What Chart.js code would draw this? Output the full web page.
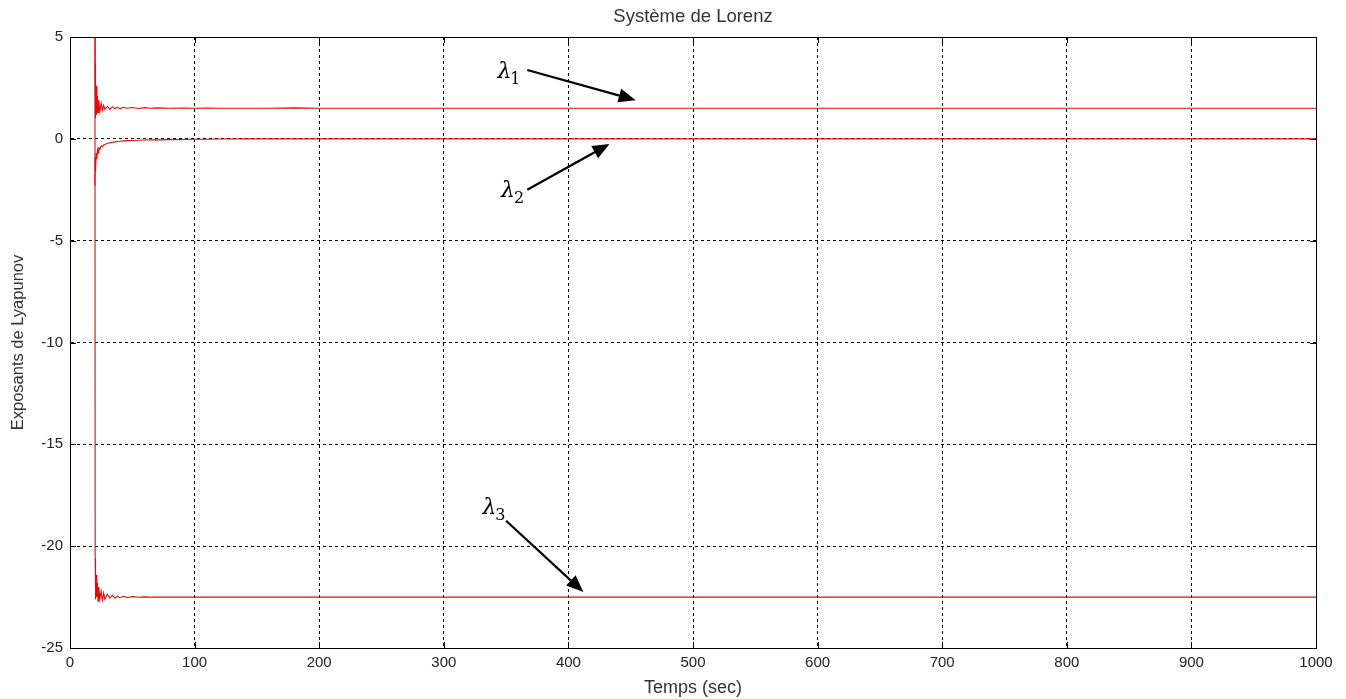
<!DOCTYPE html>
<html lang="fr">
<head>
<meta charset="UTF-8">
<title>Système de Lorenz</title>
<script src="https://cdn.jsdelivr.net/npm/chart.js"></script>
<style>
  html, body { margin: 0; padding: 0; background: #fff; }
  #wrap { width: 1346px; height: 699px; }
</style>
</head>
<body>
<div id="wrap"><canvas id="lyap" width="1346" height="699"></canvas></div>
<script>
// temps d'integration (s) et exposants estimes
var temps = [20, 20.2, 20.5, 21, 21.5, 22, 22.5, 23, 24, 25,
             26, 27, 28, 30, 32, 34, 36, 38, 40, 43,
             46, 50, 55, 60, 65, 70, 80, 90, 100, 110,
             120, 140, 160, 180, 200, 250, 300, 400, 500, 600,
             700, 800, 900, 1000];

var lambda1 = [8, 3.7, 1.0, 2.6, 1.2, 2.1, 1.3, 1.9, 1.35, 1.75,
               1.4, 1.65, 1.45, 1.6, 1.45, 1.58, 1.47, 1.56, 1.48, 1.55,
               1.5, 1.54, 1.49, 1.53, 1.5, 1.52, 1.5, 1.51, 1.5, 1.51,
               1.5, 1.5, 1.5, 1.52, 1.5, 1.5, 1.5, 1.5, 1.5, 1.5,
               1.5, 1.5, 1.5, 1.5];

var lambda2 = [-2.3, -0.9, -1.6, -0.7, -1.0, -0.55, -0.7, -0.45, -0.5, -0.35,
               -0.38, -0.3, -0.28, -0.22, -0.2, -0.17, -0.15, -0.13, -0.12, -0.1,
               -0.09, -0.08, -0.07, -0.06, -0.05, -0.05, -0.04, -0.03, -0.02, -0.02,
               -0.01, 0, 0, 0, 0, 0, 0, 0, 0, 0,
               0, 0, 0, 0];

var lambda3 = [8, -20.6, -22.6, -21.4, -22.5, -21.8, -22.7, -22.0, -22.6, -22.2,
               -22.65, -22.3, -22.6, -22.35, -22.55, -22.4, -22.55, -22.45, -22.53, -22.46,
               -22.52, -22.48, -22.51, -22.49, -22.5, -22.5, -22.5, -22.5, -22.5, -22.5,
               -22.5, -22.5, -22.5, -22.5, -22.5, -22.5, -22.5, -22.5, -22.5, -22.5,
               -22.5, -22.5, -22.5, -22.5];

var xTicks = [0, 100, 200, 300, 400, 500, 600, 700, 800, 900, 1000];
var yTicks = [5, 0, -5, -10, -15, -20, -25];

// etiquettes lambda et fleches (coordonnees en unites des axes)
var fleches = [
  { indice: '1', tx: 343, ty: 3.0,   x0: 367, y0: 3.38,  x1: 454, y1: 1.9 },
  { indice: '2', tx: 346, ty: -2.85, x0: 367, y0: -2.5,  x1: 433, y1: -0.25 },
  { indice: '3', tx: 331, ty: -18.4, x0: 350, y0: -18.75, x1: 412, y1: -22.25 }
];

function serie(vals) {
  return vals.map(function (v, i) { return { x: temps[i], y: v }; });
}

var rouge = 'rgb(228, 10, 10)';
var police = '"Liberation Sans", Arial, sans-serif';

// titre centre sur les axes, cadre complet, graduations vers l'interieur, fleches et lambdas
var habillage = {
  id: 'habillage',
  afterDatasetsDraw: function (chart) {
    var ctx = chart.ctx, a = chart.chartArea;
    var sx = chart.scales.x, sy = chart.scales.y;
    ctx.save();
    ctx.fillStyle = '#333';
    ctx.font = '18.5px ' + police;
    ctx.textAlign = 'center';
    ctx.textBaseline = 'middle';
    ctx.fillText('Système de Lorenz', (a.left + a.right) / 2, 17);

    ctx.strokeStyle = '#000';
    ctx.lineWidth = 1;
    ctx.setLineDash([]);
    ctx.strokeRect(Math.round(a.left) + 0.5, Math.round(a.top) + 0.5,
                   Math.round(a.right - a.left), Math.round(a.bottom - a.top));
    ctx.beginPath();
    xTicks.forEach(function (t) {
      var px = Math.round(sx.getPixelForValue(t)) + 0.5;
      ctx.moveTo(px, a.bottom); ctx.lineTo(px, a.bottom - 6);
      ctx.moveTo(px, a.top); ctx.lineTo(px, a.top + 6);
    });
    yTicks.forEach(function (t) {
      var py = Math.round(sy.getPixelForValue(t)) + 0.5;
      ctx.moveTo(a.left, py); ctx.lineTo(a.left + 6, py);
      ctx.moveTo(a.right, py); ctx.lineTo(a.right - 6, py);
    });
    ctx.stroke();

    fleches.forEach(function (f) {
      var x0 = sx.getPixelForValue(f.x0), y0 = sy.getPixelForValue(f.y0);
      var x1 = sx.getPixelForValue(f.x1), y1 = sy.getPixelForValue(f.y1);
      var ang = Math.atan2(y1 - y0, x1 - x0);
      var L = 17, W = 7;
      ctx.strokeStyle = '#000';
      ctx.fillStyle = '#000';
      ctx.lineWidth = 2.2;
      ctx.beginPath();
      ctx.moveTo(x0, y0);
      ctx.lineTo(x1 - Math.cos(ang) * (L - 2), y1 - Math.sin(ang) * (L - 2));
      ctx.stroke();
      ctx.beginPath();
      ctx.moveTo(x1, y1);
      ctx.lineTo(x1 - L * Math.cos(ang) + W * Math.sin(ang), y1 - L * Math.sin(ang) - W * Math.cos(ang));
      ctx.lineTo(x1 - L * Math.cos(ang) - W * Math.sin(ang), y1 - L * Math.sin(ang) + W * Math.cos(ang));
      ctx.closePath();
      ctx.fill();

      var tx = sx.getPixelForValue(f.tx), ty = sy.getPixelForValue(f.ty);
      ctx.textBaseline = 'alphabetic';
      ctx.textAlign = 'left';
      ctx.font = 'italic 22px "DejaVu Serif"';
      ctx.fillText('\u03bb', tx, ty);
      var w = ctx.measureText('\u03bb').width;
      ctx.font = '16px "DejaVu Serif"';
      ctx.fillText(f.indice, tx + w - 1, ty + 6);
    });
    ctx.restore();
  }
};

var ligne = { borderColor: rouge, borderWidth: 1.1, pointRadius: 0, tension: 0, fill: false };

var ctx = document.getElementById('lyap').getContext('2d');
var chart = new Chart(ctx, {
  type: 'line',
  data: {
    datasets: [
      Object.assign({ label: 'lambda1', data: serie(lambda1) }, ligne),
      Object.assign({ label: 'lambda2', data: serie(lambda2) }, ligne),
      Object.assign({ label: 'lambda3', data: serie(lambda3) }, ligne)
    ]
  },
  options: {
    responsive: false,
    animation: false,
    layout: { padding: { left: 0, right: 30, top: 37, bottom: 0 } },
    plugins: {
      legend: { display: false },
      tooltip: { enabled: false },
      title: { display: false }
    },
    scales: {
      x: {
        type: 'linear',
        min: 0, max: 1000,
        afterFit: function (s) { s.height = 51; },
        afterBuildTicks: function (s) { s.ticks = xTicks.map(function (v) { return { value: v }; }); },
        ticks: {
          color: '#222', padding: 6, maxRotation: 0,
          font: { family: police, size: 15 },
          callback: function (v) { return String(v); }
        },
        grid: { color: '#000', lineWidth: 1, drawTicks: false },
        border: { display: true, color: '#000', dash: [3, 3] },
        title: {
          display: true, text: 'Temps (sec)', color: '#333',
          font: { family: police, size: 18 },
          padding: { top: 1, bottom: 0 }
        }
      },
      y: {
        type: 'linear',
        min: -25, max: 5,
        afterFit: function (s) { s.width = 70; },
        afterBuildTicks: function (s) { s.ticks = yTicks.map(function (v) { return { value: v }; }); },
        ticks: {
          color: '#222', padding: 7,
          font: { family: police, size: 15 },
          callback: function (v) { return String(v); }
        },
        grid: { color: '#000', lineWidth: 1, drawTicks: false },
        border: { display: true, color: '#000', dash: [3, 3] },
        title: {
          display: true, text: 'Exposants de Lyapunov', color: '#333',
          font: { family: police, size: 16.5 },
          padding: { top: 9, bottom: 0 }
        }
      }
    }
  },
  plugins: [habillage]
});
</script>
</body>
</html>
